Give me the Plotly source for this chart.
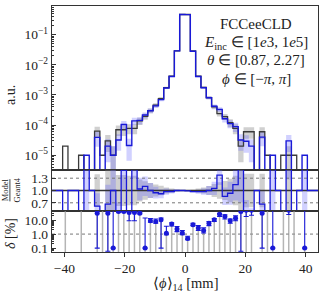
import numpy as np
import plotly.graph_objects as go
from plotly.subplots import make_subplots

# ---------------- data ----------------
n_bins = 50
x_lo, x_hi = -44.1, 44.1

geant4 = [0, 0, 2.0e-5, 0, 0, 1.0e-5, 0, 0, 6.3e-5, 1.0e-5,
          3.0e-5, 1.0e-5, 7.0e-5, 7.0e-5, 7.8e-5, 7.8e-5, 1.38e-4, 1.95e-4, 3.0e-4, 4.6e-4,
          7.6e-4, 1.75e-3, 4.2e-3, 0.0290, 0.465, 0.465, 0.0290, 4.2e-3, 1.78e-3, 8.1e-4,
          4.0e-4, 2.4e-4, 1.9e-4, 1.2e-4, 7.8e-5, 2.0e-5, 6.0e-5, 6.0e-5, 0, 6.0e-5,
          1.0e-5, 0, 0, 1.0e-5, 1.0e-5, 1.0e-5, 0, 0, 0, 0]

model = [0, 0, 0, 0, 0, 0, 1.0e-5, 0, 3.9e-5, 0,
         2.0e-5, 1.0e-5, 3.2e-5, 1.05e-4, 2.1e-5, 1.38e-4, 1.43e-4, 2.15e-4, 3.0e-4, 4.35e-4,
         7.0e-4, 1.70e-3, 4.1e-3, 0.0290, 0.465, 0.460, 0.0282, 4.08e-3, 1.73e-3, 8.1e-4,
         4.2e-4, 3.3e-4, 1.63e-4, 1.12e-4, 8.9e-5, 3.2e-5, 2.9e-5, 2.0e-5, 0, 4.0e-5,
         0, 1.0e-5, 0, 0, 3.0e-5, 0, 0, 1.0e-5, 0, 0]

N = None
delta = [N, N, N, N, N, N, N, N, 31, N,
         31, 0.1, 41, 41, 35, 35, 31, 0.1, 9, 8.1,
         10.5, 1.15, 5.2, 2.3, 1.2, 0.48, 4.7, 2.75, 1.8, 5.9,
         10.5, 26, 18, 8.9, 13.8, 41, 50, 50, N, 31,
         N, 0.1, N, N, 50, N, N, 0.1, N, N]
delta_lo = [N, N, N, N, N, N, N, N, 0.1, N,
            0.06, 0.1, 36, 36, 9, 9, 27, 0.1, 7, 6,
            0.1, 0.9, 3.8, 1.5, 0.9, 0.4, 4.0, 1.8, 1.2, 4.0,
            8, 18, 12, 6, 9, 0.06, 18, 22, N, 0.1,
            N, 0.1, N, N, 25, N, N, 0.1, N, N]
delta_hi = [N, N, N, N, N, N, N, N, 44, N,
            44, 60, 46, 46, 46, 46, 36, 14, 13, 12,
            14, 3.6, 6.5, 3.5, 1.8, 0.7, 6.0, 4.0, 2.8, 8.0,
            13, 30, 24, 12, 20, 46, 50, 50, N, 44,
            N, 60, N, N, 50, N, N, 60, N, N]

x_ticks = [-40, -20, 0, 20, 40]
x_ticktext = ["\u221240", "\u221220", "0", "20", "40"]
y_ticks = [1e-5, 1e-4, 1e-3, 1e-2, 1e-1]
y_ticktext = ["10<sup>\u22125</sup>", "10<sup>\u22124</sup>", "10<sup>\u22123</sup>",
              "10<sup>\u22122</sup>", "10<sup>\u22121</sup>"]
r_ticks = [0.7, 1.0, 1.3]
r_ticktext = ["0.7", "1.0", "1.3"]
d_ticks = [0.1, 1.0, 10.0]
d_ticktext = ["0.1", "1.0", "10.0"]

COUNT_SCALE = 1e5  # one event = 1e-5 a.u.

# ---------------- derived ----------------
edges = np.linspace(x_lo, x_hi, n_bins + 1)
centers = 0.5 * (edges[:-1] + edges[1:])
g = np.array(geant4, float)
m = np.array(model, float)
g_rel = np.divide(1.0, np.sqrt(g * COUNT_SCALE), out=np.zeros_like(g), where=g > 0)
m_rel = np.divide(1.0, np.sqrt(m * COUNT_SCALE), out=np.zeros_like(m), where=m > 0)
both = (g > 0) & (m > 0)
ratio = np.divide(m, g, out=np.where(m > 0, 10.0, 1.0), where=g > 0)

TINY = 1e-9
BLUE = "rgb(25,25,215)"
BLACK = "#3a3a3a"
FONT = "Liberation Serif"


def step_xy(vals, floor=None):
    v = np.array(vals, float)
    if floor is not None:
        v = np.where(v > 0, v, floor)
    return list(edges), list(v) + [v[-1]]


def band_xy(lo, hi, mask):
    xs, ys = [], []
    for i in range(n_bins):
        if mask[i]:
            x0, x1 = edges[i], edges[i + 1]
            xs += [x0, x1, x1, x0, x0, None]
            ys += [lo[i], lo[i], hi[i], hi[i], lo[i], None]
    return xs, ys


fig = make_subplots(rows=3, cols=1, shared_xaxes=True, vertical_spacing=0,
                    row_heights=[164, 41, 41])

# ---- main panel ----
bx, by = band_xy(np.maximum(g * (1 - g_rel), TINY), g * (1 + g_rel), both)
fig.add_trace(go.Scatter(x=bx, y=by, fill="toself", fillcolor="rgba(120,120,120,0.35)",
                         line=dict(width=0), mode="lines", hoverinfo="skip"), row=1, col=1)
bx, by = band_xy(np.maximum(m * (1 - m_rel), TINY), m * (1 + m_rel), both)
fig.add_trace(go.Scatter(x=bx, y=by, fill="toself", fillcolor="rgba(90,90,255,0.28)",
                         line=dict(width=0), mode="lines", hoverinfo="skip"), row=1, col=1)
sx, sy = step_xy(g, TINY)
fig.add_trace(go.Scatter(x=sx, y=sy, mode="lines", line=dict(color=BLACK, width=1.3, shape="hv")),
              row=1, col=1)
sx, sy = step_xy(m, TINY)
fig.add_trace(go.Scatter(x=sx, y=sy, mode="lines", line=dict(color=BLUE, width=1.4, shape="hv")),
              row=1, col=1)

# ---- ratio panel ----
bx, by = band_xy(1 - g_rel, 1 + g_rel, both)
fig.add_trace(go.Scatter(x=bx, y=by, fill="toself", fillcolor="rgba(120,120,120,0.35)",
                         line=dict(width=0), mode="lines", hoverinfo="skip"), row=2, col=1)
r_lo = np.where(both, ratio * (1 - m_rel), -10)
r_hi = np.where(both, ratio * (1 + m_rel), 10)
bx, by = band_xy(r_lo, r_hi, (m > 0))
fig.add_trace(go.Scatter(x=bx, y=by, fill="toself", fillcolor="rgba(90,90,255,0.28)",
                         line=dict(width=0), mode="lines", hoverinfo="skip"), row=2, col=1)
for yv, dash, col, w in [(0.7, "dot", "#777", 1), (1.3, "dot", "#777", 1), (1.0, "solid", "#333", 1.3)]:
    fig.add_trace(go.Scatter(x=[x_lo, x_hi], y=[yv, yv], mode="lines",
                             line=dict(color=col, width=w, dash=dash), hoverinfo="skip"), row=2, col=1)
sx, sy = step_xy(ratio)
fig.add_trace(go.Scatter(x=sx, y=sy, mode="lines", line=dict(color=BLUE, width=1.3, shape="hv")),
              row=2, col=1)

# ---- delta panel ----
fig.add_trace(go.Scatter(x=[x_lo, x_hi], y=[1.0, 1.0], mode="lines",
                         line=dict(color="#777", width=1, dash="dot"), hoverinfo="skip"), row=3, col=1)
stx, sty = [], []
for i in range(n_bins):
    if delta[i] is not None:
        stx += [centers[i], centers[i], None]
        sty += [1e-3, delta[i], None]
    elif g[i] > 0 and m[i] == 0:
        stx += [centers[i], centers[i], None]
        sty += [1e-3, 1e3, None]
fig.add_trace(go.Scatter(x=stx, y=sty, mode="lines",
                         line=dict(color="rgba(150,150,150,0.7)", width=1.5), hoverinfo="skip"),
              row=3, col=1)
dx = [centers[i] for i in range(n_bins) if delta[i] is not None]
dv = [delta[i] for i in range(n_bins) if delta[i] is not None]
dlo = [delta[i] - delta_lo[i] for i in range(n_bins) if delta[i] is not None]
dhi = [delta_hi[i] - delta[i] for i in range(n_bins) if delta[i] is not None]
fig.add_trace(go.Scatter(x=dx, y=dv, mode="markers",
                         marker=dict(color=BLUE, size=5),
                         error_y=dict(type="data", array=dhi, arrayminus=dlo, color=BLUE,
                                      thickness=1.1, width=2.5)),
              row=3, col=1)

# ---------------- axes ----------------
axis_common = dict(showline=True, mirror=True, linecolor="#333", linewidth=1.2,
                   showgrid=False, zeroline=False, ticks="inside", ticklen=4, automargin=False,
                   tickcolor="#333", tickfont=dict(family=FONT, size=13.5, color="#222"))

for r in (1, 2):
    fig.update_xaxes(range=[x_lo, x_hi], showticklabels=False, **{**axis_common, "ticks": ""},
                     row=r, col=1)
fig.update_xaxes(range=[x_lo, x_hi], tickmode="array", tickvals=x_ticks, ticktext=x_ticktext,
                 **{**axis_common, "ticks": "outside"}, row=3, col=1)

minor_main = [k * 10.0 ** e for e in range(-6, 0) for k in range(2, 10)]
fig.update_yaxes(type="log", range=[-5.49, -0.05], tickmode="array", tickvals=y_ticks,
                 ticktext=y_ticktext,
                 minor=dict(tickmode="array", tickvals=minor_main, ticks="inside", ticklen=2,
                            tickcolor="#333"),
                 **axis_common, row=1, col=1)
fig.update_yaxes(range=[0.5, 1.5], tickmode="array", tickvals=r_ticks, ticktext=r_ticktext,
                 **axis_common, row=2, col=1)
minor_d = [k * 10.0 ** e for e in range(-2, 2) for k in range(2, 10)]
fig.update_yaxes(type="log", range=[-1.28, 1.65], tickmode="array", tickvals=d_ticks,
                 ticktext=d_ticktext,
                 minor=dict(tickmode="array", tickvals=minor_d, ticks="inside", ticklen=2,
                            tickcolor="#333"),
                 **axis_common, row=3, col=1)

# ---------------- text ----------------
ann = []
info = ["FCCeeCLD",
        "<i>E</i><sub>inc</sub> \u2208 [1<i>e</i>3, 1<i>e</i>5]",
        "<i>\u03b8</i> \u2208 [0.87, 2.27]",
        "<i>\u03d5</i> \u2208 [\u2212<i>\u03c0</i>, <i>\u03c0</i>]"]
for txt, yy in zip(info, [0.927, 0.851, 0.780, 0.703]):
    ann.append(dict(text=txt, x=0.767, y=yy, xref="paper", yref="paper", showarrow=False,
                    xanchor="center", yanchor="middle",
                    font=dict(family=FONT, size=15, color="#222")))
ann.append(dict(text="a.u.", x=-0.158, y=0.638, xref="paper", yref="paper", showarrow=False,
                textangle=-90, xanchor="center", yanchor="middle",
                font=dict(family=FONT, size=14, color="#222")))
ann.append(dict(text="<u>Model</u><br>Geant4", x=-0.156, y=0.252, xref="paper", yref="paper",
                showarrow=False, textangle=-90, xanchor="center", yanchor="middle",
                font=dict(family=FONT, size=8.5, color="#222")))
ann.append(dict(text="<i>\u03b4</i> [%]", x=-0.158, y=0.077, xref="paper", yref="paper",
                showarrow=False, textangle=-90, xanchor="center", yanchor="middle",
                font=dict(family=FONT, size=14, color="#222")))
ann.append(dict(text="\u27e8<i>\u03d5</i>\u27e9<sub>14</sub> [mm]", x=0.5, y=-0.132,
                xref="paper", yref="paper", showarrow=False, xanchor="center",
                yanchor="middle", font=dict(family=FONT, size=14.5, color="#222")))

fig.update_layout(width=324, height=292, margin=dict(l=52, r=6, t=6, b=40),
                  plot_bgcolor="white", paper_bgcolor="white", showlegend=False,
                  annotations=ann, font=dict(family=FONT))

fig.write_html("out.html", config={"displayModeBar": False, "staticPlot": True})

# remove the browser's default page margin so the figure sits at the window origin
with open("out.html", "r", encoding="utf-8") as fh:
    html = fh.read()
html = html.replace("<head>", "<head><style>html,body{margin:0;padding:0;overflow:hidden;}</style>", 1)
with open("out.html", "w", encoding="utf-8") as fh:
    fh.write(html)
